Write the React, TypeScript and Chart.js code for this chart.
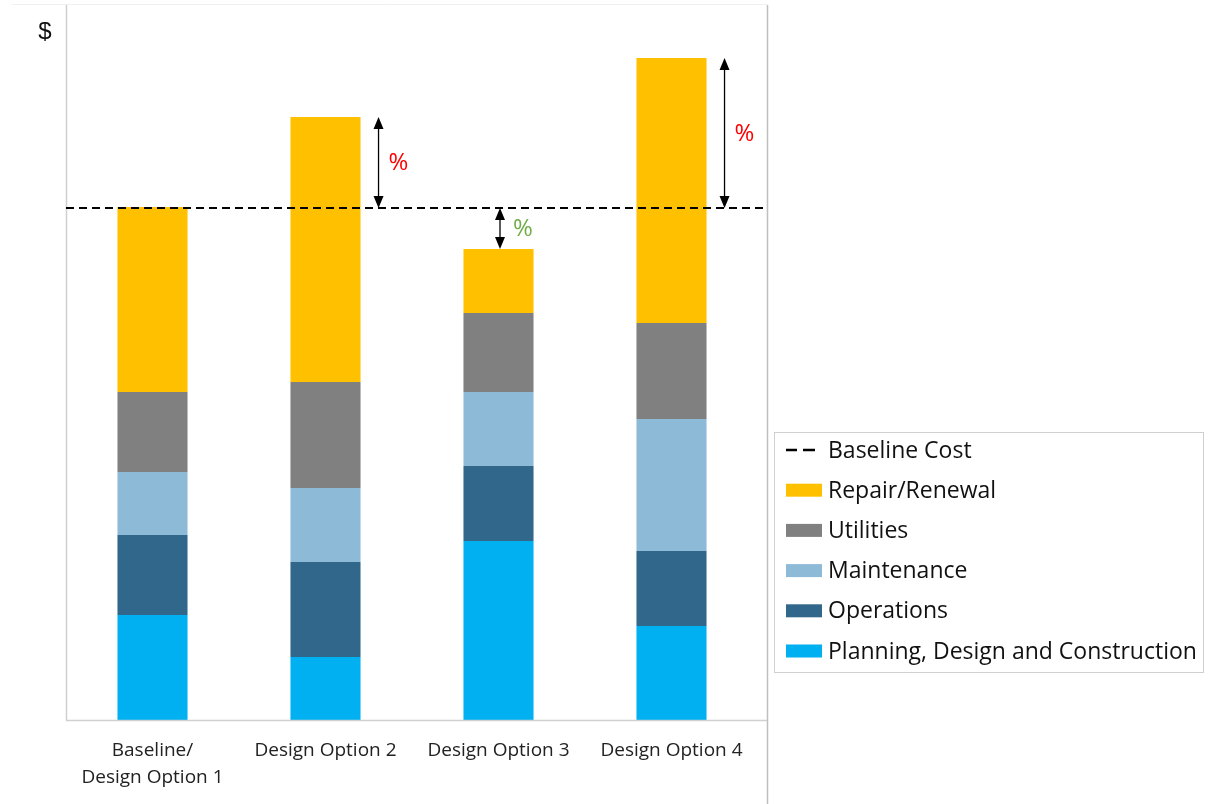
import React, { useEffect, useRef } from "react";
import { Chart, registerables } from "chart.js";

Chart.register(...registerables);

const categories: (string | string[])[] = [["Baseline/", "Design Option 1"], "Design Option 2", "Design Option 3", "Design Option 4"];
const planningDesignConstruction = [105, 63, 179, 94];
const operations = [80, 95, 75, 75];
const maintenance = [63, 74, 74, 132];
const utilities = [80, 106, 79, 96];
const repairRenewal = [185, 265, 64, 265];
const baselineCost = 512;
const yMax = 715;

const seriesNames = ["Planning, Design and Construction", "Operations", "Maintenance", "Utilities", "Repair/Renewal"];
const seriesColors = ["#00b0f0", "#31678a", "#8dbad6", "#808080", "#ffc000"];
const seriesValues = [planningDesignConstruction, operations, maintenance, utilities, repairRenewal];

// which bars get a difference arrow, and its label
const diffIndices = [1, 2, 3];
const diffLabels = ["%", "%", "%"];

const FONT = '"Open Sans", Lato, "DejaVu Sans", sans-serif';

function drawArrow(ctx: CanvasRenderingContext2D, x: number, y1: number, y2: number) {
  const top = Math.min(y1, y2);
  const bot = Math.max(y1, y2);
  const h = 12;
  const w = 5;
  ctx.save();
  ctx.strokeStyle = "#000";
  ctx.fillStyle = "#000";
  ctx.lineWidth = 1.3;
  ctx.beginPath();
  ctx.moveTo(x, top + h - 1);
  ctx.lineTo(x, bot - h + 1);
  ctx.stroke();
  ctx.beginPath();
  ctx.moveTo(x, top);
  ctx.lineTo(x - w, top + h);
  ctx.lineTo(x + w, top + h);
  ctx.closePath();
  ctx.fill();
  ctx.beginPath();
  ctx.moveTo(x, bot);
  ctx.lineTo(x - w, bot - h);
  ctx.lineTo(x + w, bot - h);
  ctx.closePath();
  ctx.fill();
  ctx.restore();
}

const overlayPlugin = {
  id: "overlay",
  afterDatasetsDraw(chart: any) {
    const { ctx, chartArea, scales } = chart;
    const ys = scales.y;
    const bottom = ys.getPixelForValue(0);
    const baseY = ys.getPixelForValue(baselineCost);
    const axisRight = chartArea.right + 9;

    ctx.save();
    // y axis line
    ctx.strokeStyle = "#d0d0d0";
    ctx.lineWidth = 1.5;
    ctx.beginPath();
    ctx.moveTo(chartArea.left + 0.5, chartArea.top);
    ctx.lineTo(chartArea.left + 0.5, bottom);
    ctx.stroke();
    // x axis line
    ctx.beginPath();
    ctx.moveTo(chartArea.left, bottom + 0.5);
    ctx.lineTo(axisRight, bottom + 0.5);
    ctx.stroke();
    // right frame line
    ctx.strokeStyle = "#bfbfbf";
    ctx.beginPath();
    ctx.moveTo(axisRight + 0.5, chartArea.top);
    ctx.lineTo(axisRight + 0.5, chart.height);
    ctx.stroke();
    // faint top line
    ctx.strokeStyle = "#f0f0f0";
    ctx.lineWidth = 1;
    ctx.beginPath();
    ctx.moveTo(12, chartArea.top - 0.5);
    ctx.lineTo(axisRight, chartArea.top - 0.5);
    ctx.stroke();

    // baseline dashed line
    ctx.strokeStyle = "#000";
    ctx.lineWidth = 2;
    ctx.setLineDash([8, 5]);
    ctx.beginPath();
    ctx.moveTo(chartArea.left, baseY);
    ctx.lineTo(axisRight, baseY);
    ctx.stroke();
    ctx.setLineDash([]);

    // $ label
    ctx.fillStyle = "#111";
    ctx.font = '24px "Liberation Sans", Arial, sans-serif';
    ctx.textAlign = "center";
    ctx.textBaseline = "middle";
    ctx.fillText("$", 45, 32);

    // difference arrows
    const meta = chart.getDatasetMeta(seriesValues.length - 1);
    diffIndices.forEach((idx, k) => {
      const total = seriesValues.reduce((s, arr) => s + arr[idx], 0);
      const topY = ys.getPixelForValue(total);
      const bar = meta.data[idx];
      const above = total > baselineCost;
      const ax = above ? bar.x + bar.width / 2 + 18 : bar.x + 1.5;
      drawArrow(ctx, ax, topY, baseY);
      ctx.font = `24px ${FONT}`;
      ctx.fillStyle = above ? "#ff0000" : "#70ad47";
      ctx.textAlign = "left";
      ctx.textBaseline = "middle";
      ctx.fillText(diffLabels[k], ax + (above ? 10 : 13), (topY + baseY) / 2 + 1);
    });

    // legend box
    const lx = 774, ly = 432, lw = 429, lh = 240;
    ctx.strokeStyle = "#d0d0d0";
    ctx.lineWidth = 1;
    ctx.strokeRect(lx + 0.5, ly + 0.5, lw, lh);
    const rowY0 = 450;
    const step = 40.2;
    ctx.font = `23px ${FONT}`;
    ctx.textAlign = "left";
    ctx.textBaseline = "middle";
    // baseline cost entry
    ctx.strokeStyle = "#000";
    ctx.lineWidth = 2.5;
    ctx.beginPath();
    ctx.moveTo(786, rowY0);
    ctx.lineTo(797, rowY0);
    ctx.moveTo(803, rowY0);
    ctx.lineTo(815, rowY0);
    ctx.stroke();
    ctx.fillStyle = "#111";
    ctx.fillText("Baseline Cost", 828, rowY0 + 1);
    for (let i = 0; i < seriesNames.length; i++) {
      const si = seriesNames.length - 1 - i;
      const y = rowY0 + step * (i + 1);
      ctx.fillStyle = seriesColors[si];
      ctx.fillRect(786, y - 6.5, 36, 13);
      ctx.fillStyle = "#111";
      ctx.fillText(seriesNames[si], 828, y + 1);
    }
    ctx.restore();
  },
};

export default function App() {
  const ref = useRef<HTMLCanvasElement>(null);
  useEffect(() => {
    document.body.style.margin = "0";
    const canvas = ref.current;
    if (!canvas) return;
    const chart = new Chart(canvas, {
      type: "bar",
      data: {
        labels: categories as any,
        datasets: seriesNames.map((name, i) => ({
          label: name,
          data: seriesValues[i],
          backgroundColor: seriesColors[i],
          borderWidth: 0,
          barPercentage: 0.405,
          categoryPercentage: 1,
        })),
      },
      options: {
        responsive: false,
        animation: false,
        layout: { padding: { left: 66, right: 451, top: 5, bottom: 0 } },
        plugins: { legend: { display: false }, tooltip: { enabled: false } },
        scales: {
          x: {
            stacked: true,
            grid: { display: false, drawTicks: false },
            border: { display: false },
            ticks: {
              color: "#222",
              font: { family: FONT, size: 19, lineHeight: 1.42 },
              padding: 17,
              maxRotation: 0,
            },
            afterFit: (scale: any) => {
              scale.height = 84;
            },
          },
          y: {
            stacked: true,
            display: false,
            min: 0,
            max: yMax,
          },
        },
      },
      plugins: [overlayPlugin],
    });
    return () => chart.destroy();
  }, []);
  return (
    <div style={{ position: "absolute", left: 0, top: 0, width: 1209, height: 804, background: "#fff" }}>
      <canvas ref={ref} width={1209} height={804} style={{ width: 1209, height: 804 }} />
    </div>
  );
}
